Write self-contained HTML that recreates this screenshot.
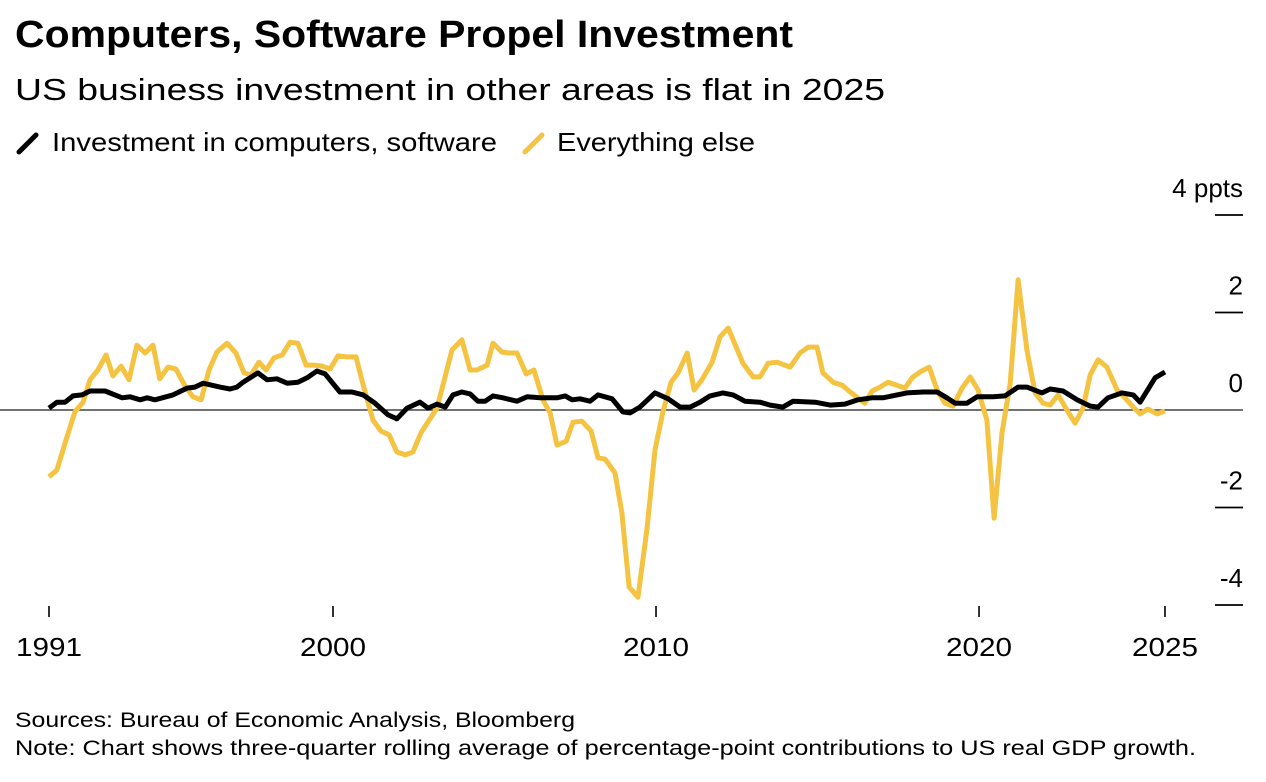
<!DOCTYPE html>
<html><head><meta charset="utf-8"><style>
html,body{margin:0;padding:0;background:#fff;}
svg{display:block;font-family:"Liberation Sans",Arial,sans-serif;}
</style></head><body>
<svg id="chart" width="1266" height="782" viewBox="0 0 1266 782">
<text x="15" y="47" font-size="38" font-weight="bold" fill="#000" textLength="778" lengthAdjust="spacingAndGlyphs">Computers, Software Propel Investment</text>
<text x="15" y="100" font-size="31" fill="#000" textLength="870" lengthAdjust="spacingAndGlyphs">US business investment in other areas is flat in 2025</text>
<g>
<g><line x1="19" y1="152" x2="36" y2="135" stroke="#000" stroke-width="5" stroke-linecap="round"/><text x="52" y="151" font-size="26" fill="#000" textLength="445" lengthAdjust="spacingAndGlyphs">Investment in computers, software</text></g>
<g><line x1="525" y1="152" x2="542" y2="135" stroke="#F5C342" stroke-width="5" stroke-linecap="round"/><text x="557" y="151" font-size="26" fill="#000" textLength="198" lengthAdjust="spacingAndGlyphs">Everything else</text></g>
</g>
<g id="axes"></g>
<g id="series"></g>
<text x="15" y="727" font-size="21" fill="#000" textLength="560" lengthAdjust="spacingAndGlyphs">Sources: Bureau of Economic Analysis, Bloomberg</text>
<text x="15" y="755" font-size="21" fill="#000" textLength="1181" lengthAdjust="spacingAndGlyphs">Note: Chart shows three-quarter rolling average of percentage-point contributions to US real GDP growth.</text>
</svg>
<script>
const yTickValues = [4, 2, 0, -2, -4];
const yTickLabels = ["4 ppts", "2", "0", "-2", "-4"];
const xTickDates = [1991, 1999.66, 2009.51, 2019.36, 2025.03];
const xTickLabels = ["1991", "2000", "2010", "2020", "2025"];
const otherDates = [1991.00,1991.24,1991.55,1991.79,1992.04,1992.25,1992.49,1992.74,1992.95,1993.20,1993.44,1993.68,1993.93,1994.17,1994.38,1994.63,1994.87,1995.15,1995.39,1995.64,1995.88,1996.12,1996.43,1996.70,1996.95,1997.16,1997.40,1997.62,1997.86,1998.11,1998.35,1998.59,1998.84,1999.08,1999.33,1999.57,1999.81,2000.06,2000.36,2000.58,2000.88,2001.12,2001.37,2001.61,2001.86,2002.10,2002.34,2002.59,2002.83,2003.29,2003.59,2003.84,2004.05,2004.36,2004.54,2004.81,2005.00,2005.27,2005.55,2005.79,2006.06,2006.28,2006.49,2006.77,2006.98,2007.25,2007.53,2007.74,2007.96,2008.26,2008.47,2008.69,2008.96,2009.24,2009.48,2009.72,2009.97,2010.18,2010.46,2010.67,2010.91,2011.22,2011.46,2011.71,2012.16,2012.47,2012.68,2012.93,2013.20,2013.60,2013.90,2014.15,2014.42,2014.60,2014.91,2015.18,2015.43,2015.88,2016.10,2016.34,2016.59,2017.10,2017.32,2017.56,2017.84,2018.08,2018.32,2018.57,2018.84,2019.09,2019.33,2019.60,2019.82,2020.06,2020.31,2020.55,2020.82,2021.07,2021.31,2021.53,2021.77,2022.04,2022.29,2022.53,2022.75,2022.99,2023.26,2023.57,2023.81,2024.06,2024.27,2024.51,2024.79,2025.03];
const otherValues = [-1.37,-1.23,-0.55,-0.04,0.16,0.62,0.82,1.13,0.70,0.90,0.62,1.33,1.17,1.33,0.64,0.88,0.84,0.49,0.27,0.21,0.82,1.19,1.37,1.17,0.76,0.72,0.98,0.82,1.07,1.13,1.39,1.37,0.92,0.92,0.90,0.84,1.11,1.09,1.09,0.51,-0.21,-0.43,-0.51,-0.86,-0.92,-0.86,-0.47,-0.21,0.04,1.23,1.44,0.82,0.82,0.92,1.37,1.19,1.17,1.17,0.74,0.82,0.21,-0.06,-0.72,-0.64,-0.25,-0.23,-0.43,-0.98,-1.01,-1.29,-2.11,-3.63,-3.84,-2.40,-0.82,-0.04,0.57,0.76,1.17,0.41,0.62,0.98,1.50,1.68,0.96,0.68,0.68,0.96,0.98,0.88,1.17,1.29,1.29,0.76,0.57,0.51,0.37,0.14,0.39,0.47,0.57,0.45,0.66,0.78,0.88,0.41,0.14,0.08,0.45,0.68,0.41,-0.21,-2.22,-0.47,0.55,2.67,1.23,0.35,0.14,0.10,0.31,0.00,-0.27,0.04,0.72,1.03,0.88,0.41,0.25,0.06,-0.08,0.02,-0.08,-0.02];
const compDates = [1991.00,1991.24,1991.49,1991.73,1992.01,1992.25,1992.71,1993.23,1993.47,1993.78,1993.99,1994.23,1994.78,1995.21,1995.45,1995.70,1996.21,1996.52,1996.73,1996.92,1997.37,1997.65,1997.95,1998.26,1998.59,1998.87,1999.17,1999.42,1999.87,2000.24,2000.58,2000.94,2001.34,2001.61,2001.92,2002.31,2002.56,2002.83,2003.08,2003.32,2003.59,2003.84,2004.08,2004.30,2004.54,2004.84,2005.27,2005.58,2005.97,2006.49,2006.74,2006.95,2007.19,2007.50,2007.74,2008.17,2008.50,2008.72,2009.02,2009.48,2009.88,2010.24,2010.55,2010.85,2011.16,2011.55,2011.86,2012.22,2012.68,2012.99,2013.38,2013.69,2014.36,2014.82,2015.27,2015.67,2016.10,2016.43,2017.16,2017.65,2018.08,2018.38,2018.63,2018.99,2019.30,2019.79,2020.15,2020.55,2020.82,2021.28,2021.53,2021.92,2022.35,2022.75,2022.99,2023.29,2023.72,2024.06,2024.27,2024.73,2025.03];
const compValues = [0.04,0.16,0.16,0.29,0.31,0.39,0.39,0.25,0.27,0.21,0.25,0.21,0.31,0.45,0.47,0.55,0.47,0.43,0.47,0.57,0.76,0.62,0.64,0.55,0.57,0.66,0.80,0.74,0.37,0.37,0.31,0.14,-0.10,-0.18,0.04,0.16,0.04,0.12,0.06,0.31,0.37,0.33,0.18,0.18,0.29,0.25,0.18,0.27,0.25,0.25,0.29,0.21,0.23,0.18,0.31,0.23,-0.04,-0.06,0.06,0.35,0.23,0.06,0.06,0.16,0.29,0.35,0.31,0.18,0.16,0.10,0.06,0.18,0.16,0.10,0.12,0.21,0.25,0.25,0.35,0.37,0.37,0.25,0.14,0.14,0.27,0.27,0.29,0.47,0.47,0.35,0.43,0.39,0.21,0.08,0.06,0.25,0.35,0.31,0.16,0.66,0.78];

function xScale(t){ return 49 + (t - 1991) * 32.794; }
function yScale(v){ return 410 - v * 48.75; }
const NS = "http://www.w3.org/2000/svg";
const axes = document.getElementById("axes");
const series = document.getElementById("series");

yTickValues.forEach(function(v, i){
  const y = yScale(v);
  const ln = document.createElementNS(NS, "line");
  ln.setAttribute("x1", v === 0 ? 0 : 1215);
  ln.setAttribute("x2", 1243);
  ln.setAttribute("y1", y); ln.setAttribute("y2", y);
  ln.setAttribute("stroke", v === 0 ? "#444" : "#000");
  ln.setAttribute("stroke-width", v === 0 ? 1.6 : 1.8);
  
  
  axes.appendChild(ln);
  const tx = document.createElementNS(NS, "text");
  tx.setAttribute("x", 1243); tx.setAttribute("y", y - 18);
  tx.setAttribute("text-anchor", "end"); tx.setAttribute("font-size", "26");
  tx.textContent = yTickLabels[i];
  
  
  axes.appendChild(tx);
});
xTickDates.forEach(function(t, i){
  const x = xScale(t);
  const ln = document.createElementNS(NS, "line");
  ln.setAttribute("x1", x); ln.setAttribute("x2", x);
  ln.setAttribute("y1", 606); ln.setAttribute("y2", 617);
  ln.setAttribute("stroke", "#000"); ln.setAttribute("stroke-width", 1.6);
  
  
  axes.appendChild(ln);
  const tx = document.createElementNS(NS, "text");
  tx.setAttribute("x", x); tx.setAttribute("y", 656);
  tx.setAttribute("text-anchor", "middle"); tx.setAttribute("font-size", "26");
  tx.setAttribute("textLength", "66"); tx.setAttribute("lengthAdjust", "spacingAndGlyphs");
  tx.textContent = xTickLabels[i];
  
  
  axes.appendChild(tx);
});
function path(dates, vals){
  return dates.map(function(t, i){ return (i ? "L" : "M") + xScale(t).toFixed(1) + "," + yScale(vals[i]).toFixed(1); }).join("");
}
const p1 = document.createElementNS(NS, "path");
p1.setAttribute("d", path(otherDates, otherValues));
p1.setAttribute("fill", "none"); p1.setAttribute("stroke", "#F5C342");
p1.setAttribute("stroke-width", 5); p1.setAttribute("stroke-linejoin", "round");


series.appendChild(p1);
const p2 = document.createElementNS(NS, "path");
p2.setAttribute("d", path(compDates, compValues));
p2.setAttribute("fill", "none"); p2.setAttribute("stroke", "#000");
p2.setAttribute("stroke-width", 5); p2.setAttribute("stroke-linejoin", "round");


series.appendChild(p2);
</script>
</body></html>
